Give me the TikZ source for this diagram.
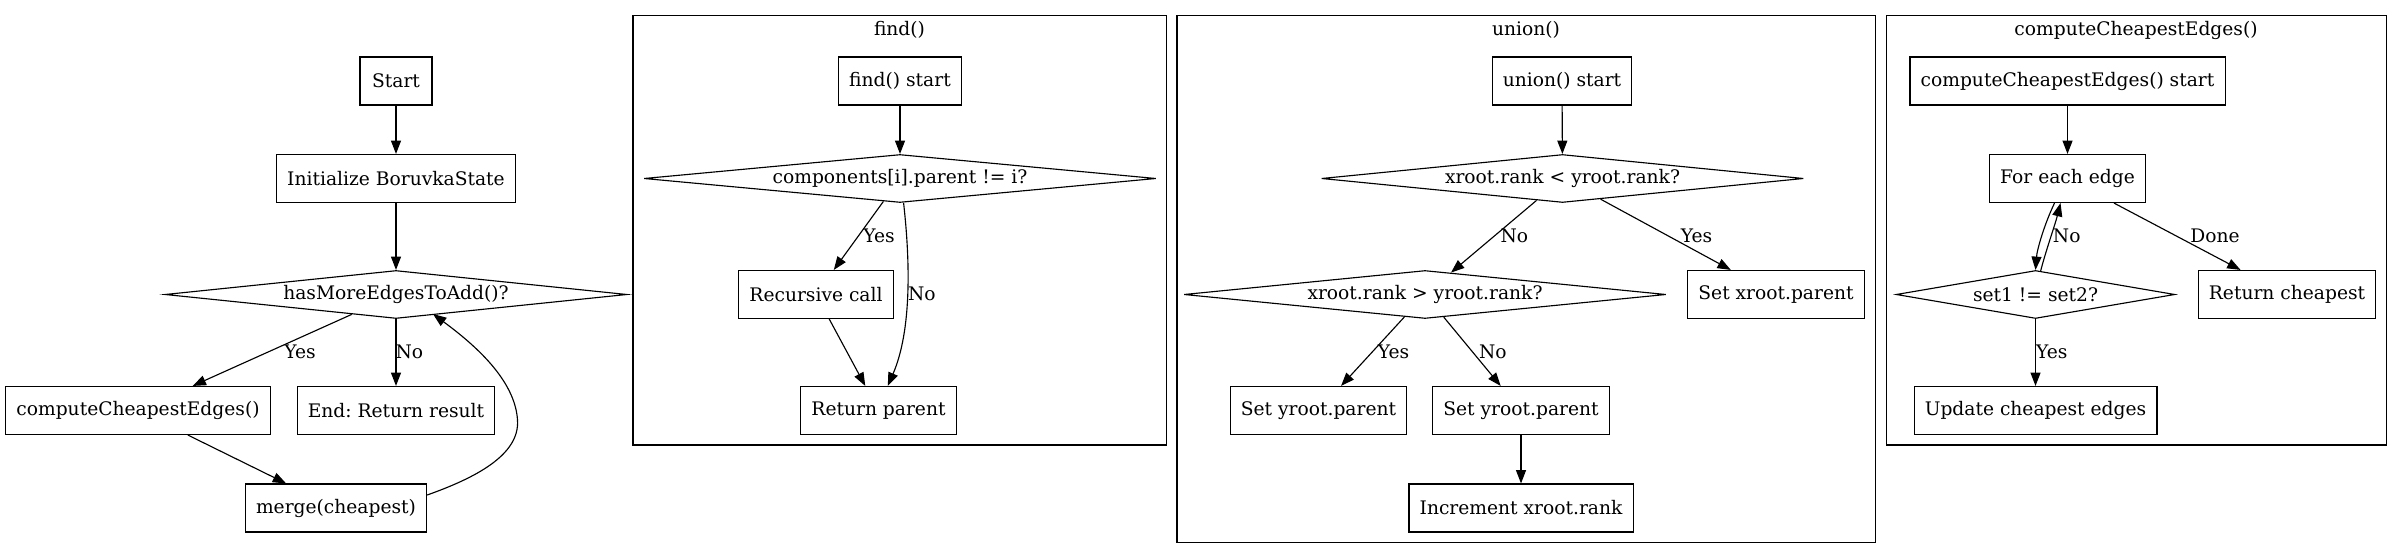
\documentclass[tikz,border=0pt]{standalone}
\usepackage{fontspec}
\setmainfont{DejaVu Serif}
\usetikzlibrary{arrows.meta,shapes.geometric,calc}
\frenchspacing
\begin{document}
\begin{tikzpicture}[x=0.75pt,y=-0.75pt,
  every node/.style={font=\fontsize{14pt}{17pt}\selectfont},
  box/.style={draw,line width=0.85pt,rectangle,inner xsep=8pt,inner ysep=0pt,minimum height=36pt,minimum width=54pt},
  dia/.style={draw,line width=0.85pt,diamond,aspect=10,inner sep=0pt,minimum height=36pt},
  cluster/.style={draw,line width=0.85pt},
  arr/.style={-{Triangle[length=10pt,width=7.5pt]},line width=0.85pt},
  lbl/.style={inner sep=0pt},
]
\useasboundingbox (0,0) rectangle (2404,559);

% ---------------- main flow ----------------
\node[box] (start) at (396,81) {Start};
\node[box] (init) at (396,178.5) {Initialize BoruvkaState};
\node[dia,minimum width=346.5pt] (more) at (396,294.5) {hasMoreEdgesToAdd()?};
\node[box] (cce) at (138,410.5) {computeCheapestEdges()};
\node[box] (endn) at (396,410.5) {End: Return result};
\node[box] (merge) at (336,508) {merge(cheapest)};
\draw[arr] (start) -- (init);
\draw[arr] (init) -- (more);
\draw[arr] (more) -- (cce);
\draw[arr] (more) -- (endn);
\draw[arr] (cce) -- (merge);
\draw[arr] ($(merge.east)+(0,-13)$) .. controls (475,478) and (520,455) .. (517.5,420)
  .. controls (515,380) and (475,345) .. ($(more.center)+(37,19.5)$);
\node[lbl] (l1) at (300,351.7) {Yes};
\node[lbl] (l2) at (409.4,351.7) {No};

% ---------------- find() ----------------
\draw[cluster] (633,15.7) rectangle (1166.6,445);
\node (findlbl) at (899.5,30) {find()};
\node[box] (fstart) at (900,81) {find() start};
\node[dia,minimum width=384pt] (fdia) at (900,178.5) {components[i].parent != i?};
\node[box] (frec) at (816,294.5) {Recursive call};
\node[box] (fret) at (878.5,410.5) {Return parent};
\draw[arr] (fstart) -- (fdia);
\draw[arr] (fdia) -- (frec);
\draw[arr] (frec) -- (fret);
\draw[arr] ($(fdia.south)+(3.6,0)$) .. controls (910,260) and (912,330) .. ($(fret.north)+(9.3,0)$);
\node[lbl] (l3) at (879,236) {Yes};
\node[lbl] (l4) at (921.8,294) {No};

% ---------------- union() ----------------
\draw[cluster] (1177,15.3) rectangle (1875.5,542.6);
\node (unionlbl) at (1526,30) {union()};
\node[box] (ustart) at (1562,81) {union() start};
\node[dia,minimum width=361.5pt] (ud1) at (1562.5,178.5) {xroot.rank < yroot.rank?};
\node[dia,minimum width=361.5pt] (ud2) at (1425,294.5) {xroot.rank > yroot.rank?};
\node[box] (usetx) at (1776,294.5) {Set xroot.parent};
\node[box] (usety1) at (1318.5,410.5) {Set yroot.parent};
\node[box] (usety2) at (1521,410.5) {Set yroot.parent};
\node[box] (uinc) at (1521,508) {Increment xroot.rank};
\draw[arr] (ustart) -- (ud1);
\draw[arr] (ud1) -- (ud2);
\draw[arr] (ud1) -- (usetx);
\draw[arr] (ud2) -- (usety1);
\draw[arr] (ud2) -- (usety2);
\draw[arr] (usety2) -- (uinc);
\node[lbl] (l5) at (1514.4,236) {No};
\node[lbl] (l6) at (1696.6,236) {Yes};
\node[lbl] (l7) at (1393.6,352.2) {Yes};
\node[lbl] (l8) at (1492.8,352.2) {No};

% ---------------- computeCheapestEdges() ----------------
\draw[cluster] (1886.7,15.7) rectangle (2386.7,445);
\node (ccelbl) at (2136,30) {computeCheapestEdges()};
\node[box] (cstart) at (2067.5,81) {computeCheapestEdges() start};
\node[box] (ceach) at (2067.5,178.5) {For each edge};
\node[dia,minimum width=209pt] (cdia) at (2035.5,294.5) {set1 != set2?};
\node[box] (cret) at (2287,294.5) {Return cheapest};
\node[box] (cupd) at (2035.5,410.5) {Update cheapest edges};
\draw[arr] (cstart) -- (ceach);
\draw[arr] ($(ceach.south)+(-13,0)$) .. controls (2044,225) and (2037,250) .. (cdia.north);
\draw[arr] ($(cdia.north)+(5,1.5)$) .. controls (2046,250) and (2055,225) .. ($(ceach.south)+(-7,0)$);
\draw[arr] (ceach) -- (cret);
\draw[arr] (cdia) -- (cupd);
\node[lbl] (l9) at (2066.7,236) {No};
\node[lbl] (l10) at (2215,236) {Done};
\node[lbl] (l11) at (2051.7,351.7) {Yes};
\end{tikzpicture}
\end{document}
